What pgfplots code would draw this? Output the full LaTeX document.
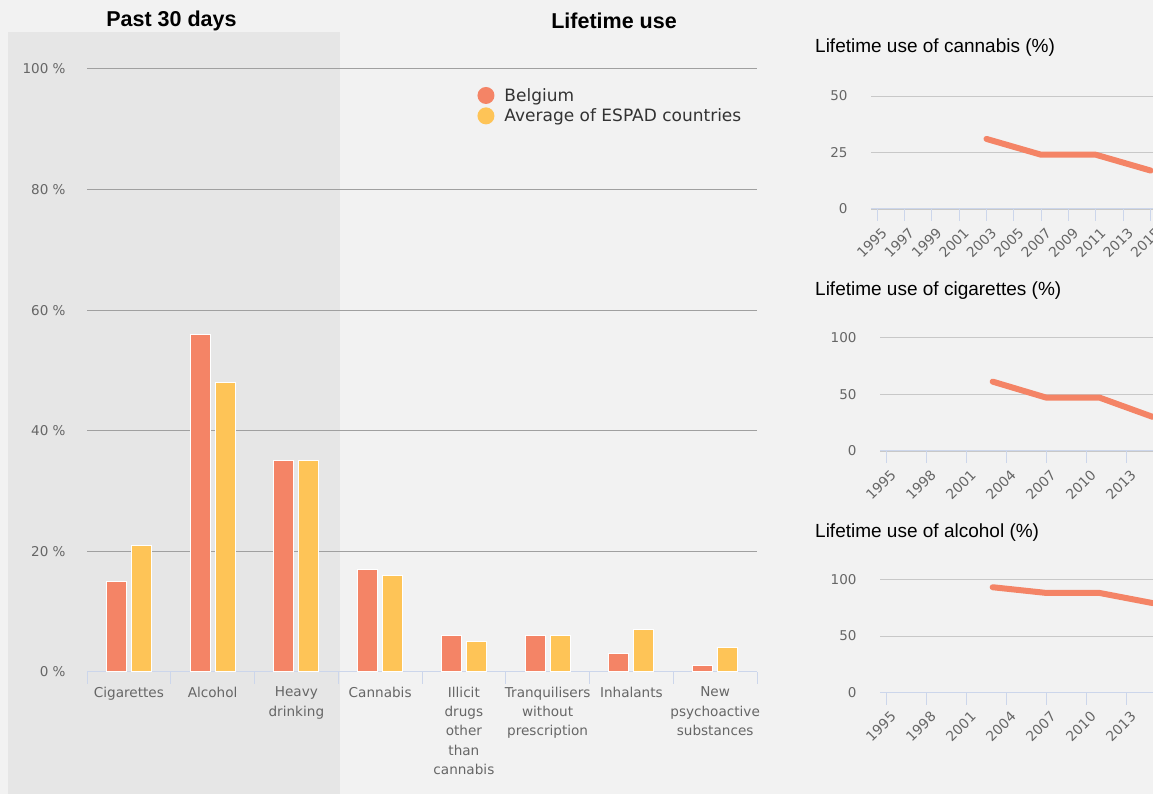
\documentclass[border=0pt]{standalone}
\usepackage{pgfplots}
\pgfplotsset{compat=1.18}
\usepackage{fontspec}
\setmainfont{DejaVu Sans}
\newfontfamily\titlefont{Liberation Sans}
\definecolor{bg}{HTML}{F2F2F2}
\definecolor{shadebg}{HTML}{E6E6E6}
\definecolor{belg}{HTML}{F48466}
\definecolor{espad}{HTML}{FEC457}
\definecolor{gridmain}{HTML}{A0A0A0}
\definecolor{gridsmall}{HTML}{C8C8C8}
\definecolor{axisblue}{HTML}{CCD6EB}
\definecolor{ticktext}{HTML}{666666}
\definecolor{legtext}{HTML}{333333}

\pgfplotsset{
  trend/.style={
    anchor=south west, scale only axis,
    axis lines*=left,
    y axis line style={draw=none},
    x axis line style={draw=axisblue, line width=1pt},
    ymajorgrids, major grid style={draw=gridsmall, line width=0.9pt},
    ytick style={draw=none},
    xtick style={draw=axisblue, line width=1pt},
    tick align=outside, major tick length=12pt,
    /pgf/number format/assume math mode=true,
    /pgf/number format/1000 sep={},
    yticklabel style={font=\fontsize{13.5}{15}\selectfont, text=ticktext, xshift=-8pt},
    xticklabel style={font=\fontsize{13.8}{15}\selectfont, text=ticktext, rotate=45, anchor=north east, yshift=-3pt, xshift=2pt},
    clip=false,
  },
  trendline/.style={draw=belg, line width=6pt, line cap=round, line join=round},
}

\begin{document}
\begin{tikzpicture}
\useasboundingbox (0pt,0pt) rectangle (1153pt,794pt);
\clip (0pt,0pt) rectangle (1153pt,794pt);
\fill[bg] (0pt,0pt) rectangle (1153pt,794pt);
\fill[shadebg] (8pt,0pt) rectangle (340pt,762pt);
\node[font=\titlefont\bfseries\fontsize{21.5}{24}\selectfont] at (171.5pt,773pt) {Past 30 days};
\node[font=\titlefont\bfseries\fontsize{21.5}{24}\selectfont] at (614pt,773pt) {Lifetime use};

% main comparison of prevalence
\begin{axis}[
  at={(87pt,122pt)}, anchor=south west, scale only axis,
  width=670pt, height=603pt,
  xmin=-0.5, xmax=7.5, ymin=0, ymax=100,
  ybar=5pt, bar width=20pt,
  axis lines*=left,
  y axis line style={draw=none},
  x axis line style={draw=axisblue, line width=1pt},
  ymajorgrids, major grid style={draw=gridmain, line width=1pt},
  ytick={0,20,...,100},
  yticklabel={\pgfmathprintnumber{\tick}\ \%},
  /pgf/number format/assume math mode=true,
  ytick style={draw=none},
  yticklabel style={font=\fontsize{13.5}{15}\selectfont, text=ticktext, xshift=-18pt},
  xtick={0,...,7},
  xtick style={draw=none},
  xticklabels={Cigarettes, Alcohol, {Heavy\\drinking}, Cannabis, {Illicit\\drugs\\other\\than\\cannabis}, {Tranquilisers\\without\\prescription}, Inhalants, {New\\psychoactive\\substances}},
  xticklabel style={font=\fontsize{13.6}{19.3}\selectfont, text=ticktext, align=center, yshift=-7pt},
  extra x ticks={-0.5,0.5,...,7.5},
  extra x tick labels={},
  extra x tick style={xtick style={draw=axisblue, line width=1pt}, major tick length=12pt, tick align=outside, grid=none},
  legend style={at={(0.578,0.975)}, anchor=north west, draw=none, fill=none,
    font=\fontsize{17}{20}\selectfont, text=legtext, row sep=2pt, column sep=8pt},
  legend cell align=left,
  legend image code/.code={\fill[#1, draw=none] (4pt,0pt) circle (8.5pt);},
]
\addplot[fill=belg, draw=white, line width=1pt] coordinates {(0,15) (1,56) (2,35) (3,17) (4,6) (5,6) (6,3) (7,1)};
\addplot[fill=espad, draw=white, line width=1pt] coordinates {(0,21) (1,48) (2,35) (3,16) (4,5) (5,6) (6,7) (7,4)};
\legend{Belgium, Average of ESPAD countries}
\end{axis}

% trend panels
\node[anchor=west, inner sep=0pt, font=\titlefont\fontsize{19}{21}\selectfont] at (815pt,746pt) {Lifetime use of cannabis (\%)};
\begin{axis}[trend, at={(871pt,585pt)}, width=333pt, height=113pt,
  xmin=1994.56, xmax=2018.9, ymin=0, ymax=50, ytick={0,25,50},
  xtick={1995,1997,...,2015}]
\addplot[trendline] coordinates {(2003,31) (2007,24) (2011,24) (2015,17)};
\end{axis}

\node[anchor=west, inner sep=0pt, font=\titlefont\fontsize{19}{21}\selectfont] at (815pt,503pt) {Lifetime use of cigarettes (\%)};
\begin{axis}[trend, at={(880pt,343pt)}, width=324pt, height=113.7pt,
  xmin=1994.55, xmax=2018.85, ymin=0, ymax=100, ytick={0,50,100},
  xtick={1995,1998,...,2013}]
\addplot[trendline] coordinates {(2003,61) (2007,47) (2011,47) (2015,30)};
\end{axis}

\node[anchor=west, inner sep=0pt, font=\titlefont\fontsize{19}{21}\selectfont] at (815pt,261pt) {Lifetime use of alcohol (\%)};
\begin{axis}[trend, at={(880pt,101.3pt)}, width=324pt, height=113.4pt,
  xmin=1994.55, xmax=2018.85, ymin=0, ymax=100, ytick={0,50,100},
  xtick={1995,1998,...,2013}]
\addplot[trendline] coordinates {(2003,93) (2007,88) (2011,88) (2015,79)};
\end{axis}
\end{tikzpicture}
\end{document}
